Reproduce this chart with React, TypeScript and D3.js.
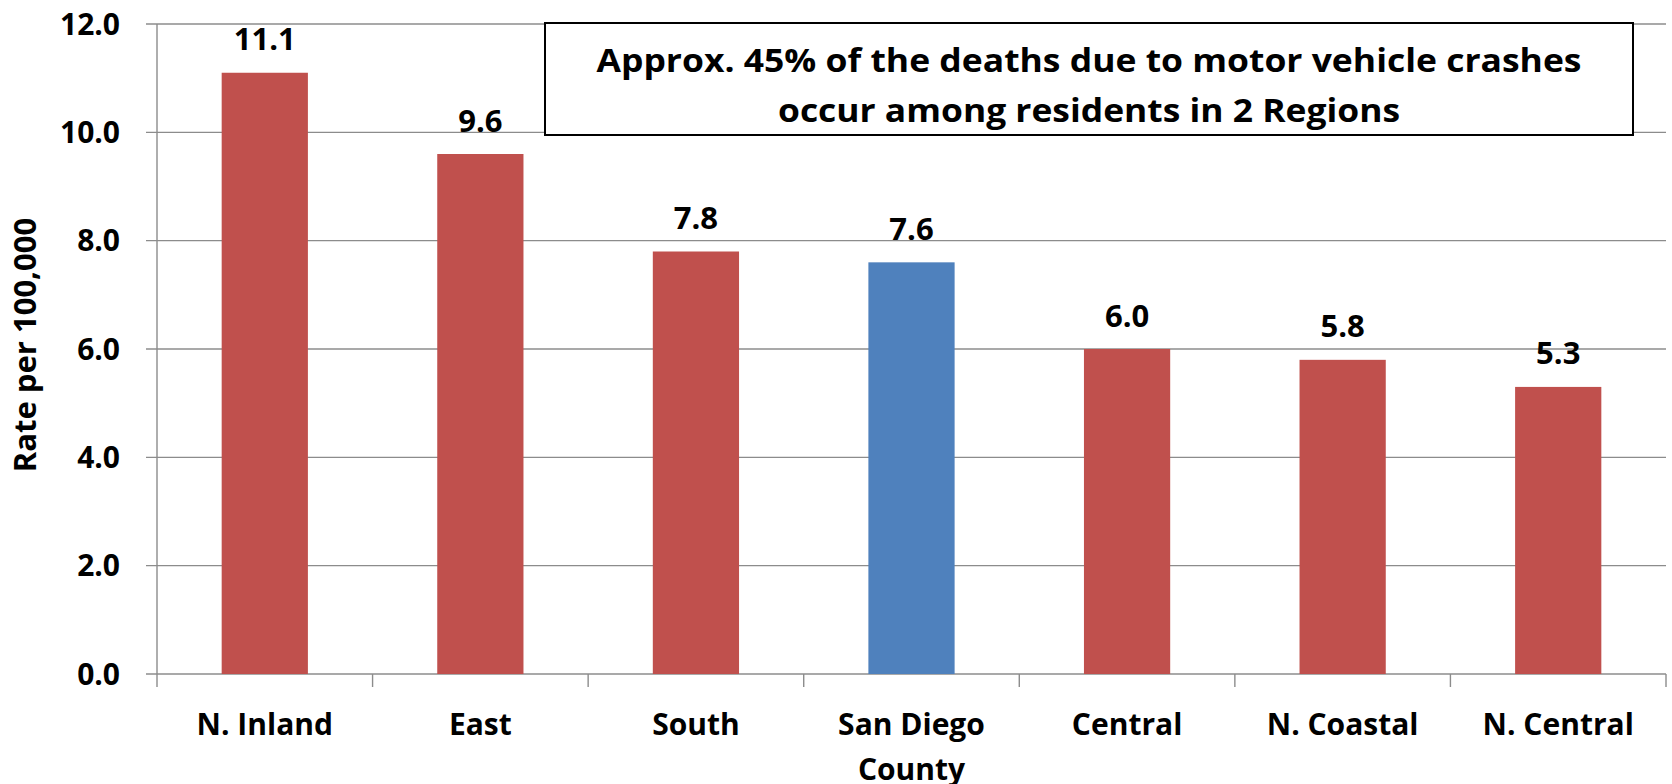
import React from "react";
import * as d3 from "d3";

const categories = ["N. Inland", "East", "South", "San Diego County", "Central", "N. Coastal", "N. Central"];
const categoryLines = [["N. Inland"], ["East"], ["South"], ["San Diego", "County"], ["Central"], ["N. Coastal"], ["N. Central"]];
const rates = [11.1, 9.6, 7.8, 7.6, 6.0, 5.8, 5.3];
const highlight = [false, false, false, true, false, false, false];
const yTicks = [0, 2, 4, 6, 8, 10, 12];
const annotationLines = ["Approx. 45% of the deaths due to motor vehicle crashes", "occur among residents in 2 Regions"];
const annotationWidths = [985, 622];
const yTitle = "Rate per 100,000";

const W = 1672;
const H = 784;
const FONT = "'Open Sans', Lato, sans-serif";

export default function App() {
  const x = d3.scaleBand<string>().domain(categories).range([157, 1666]).paddingInner(0.6).paddingOuter(0.3);
  const y = d3.scaleLinear().domain([0, 12]).range([674, 24]);
  const step = x.step();
  const grid = "#8c8c8c";

  return (
    <div style={{ position: "absolute", left: 0, top: 0 }}>
      <svg width={W} height={H} style={{ display: "block" }} fontFamily={FONT}>
        <rect x={0} y={0} width={W} height={H} fill="#fff" />
        {yTicks.map((t) => (
          <g key={t}>
            <line x1={146} x2={1666} y1={y(t)} y2={y(t)} stroke={grid} strokeWidth={1.4} />
            <text x={120} y={y(t) + 10.5} textAnchor="end" fontSize={30} fontWeight={700} fill="#000">
              {t.toFixed(1)}
            </text>
          </g>
        ))}
        <line x1={157} x2={157} y1={24} y2={687} stroke={grid} strokeWidth={1.4} />
        {categories.map((c, i) => (
          <line key={"t" + i} x1={157 + (i + 1) * step} x2={157 + (i + 1) * step} y1={674} y2={687} stroke={grid} strokeWidth={1.4} />
        ))}
        {categories.map((c, i) => (
          <rect key={c} x={x(c)} y={y(rates[i])} width={x.bandwidth()} height={y(0) - y(rates[i])} fill={highlight[i] ? "#4F81BD" : "#C0504D"} />
        ))}
        {categories.map((c, i) => (
          <text key={"v" + c} x={(x(c) as number) + x.bandwidth() / 2} y={y(rates[i]) - 22.5} textAnchor="middle" fontSize={31} fontWeight={700} fill="#000">
            {rates[i].toFixed(1)}
          </text>
        ))}
        {categories.map((c, i) => (
          <text key={"c" + c} x={(x(c) as number) + x.bandwidth() / 2} y={735} textAnchor="middle" fontSize={30} fontWeight={700} fill="#000">
            {categoryLines[i].map((l, j) => (
              <tspan key={j} x={(x(c) as number) + x.bandwidth() / 2} y={735 + j * 45}>
                {l}
              </tspan>
            ))}
          </text>
        ))}
        <text transform={`translate(36, 345) rotate(-90)`} textAnchor="middle" fontSize={31} fontWeight={700} fill="#000">
          {yTitle}
        </text>
        <rect x={545} y={23} width={1088} height={112} fill="#fff" stroke="#000" strokeWidth={2} />
        {annotationLines.map((l, j) => (
          <text key={j} x={1089} y={72 + j * 50} textAnchor="middle" fontSize={32} fontWeight={700} fill="#000"
            textLength={annotationWidths[j]} lengthAdjust="spacingAndGlyphs">
            {l}
          </text>
        ))}
      </svg>
    </div>
  );
}
